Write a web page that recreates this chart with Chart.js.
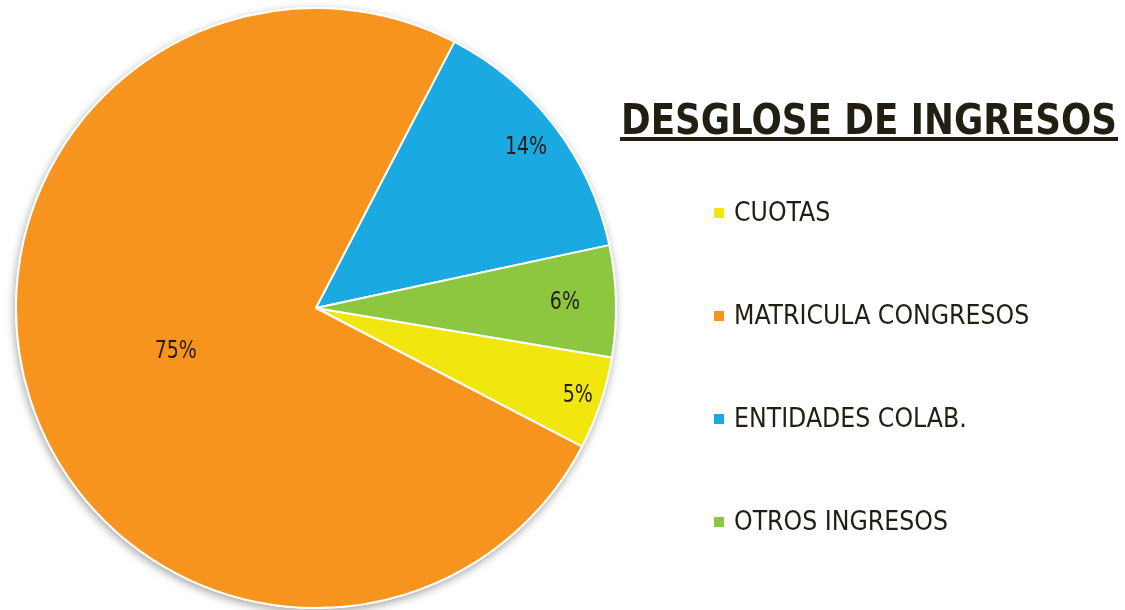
<!DOCTYPE html>
<html>
<head>
<meta charset="utf-8">
<script src="https://cdn.jsdelivr.net/npm/chart.js@4.4.1/dist/chart.umd.min.js"></script>
<style>
  html, body { margin: 0; background: #fff; }
  #wrap { width: 1125px; height: 610px; }
</style>
</head>
<body>
<div id="wrap"><canvas id="pie"></canvas></div>
<script>
// data
const categories = ["CUOTAS", "MATRICULA CONGRESOS", "ENTIDADES COLAB.", "OTROS INGRESOS"];
const shares = [5, 75, 14, 6];
const pctLabels = ["5%", "75%", "14%", "6%"];
const colors = ["#f2e60f", "#f7941e", "#1ba9e1", "#8dc63f"];
const chartTitle = "DESGLOSE DE INGRESOS";

const ink = "#221e12";
// how far out (fraction of radius) each percent label sits
const labelPos = [0.92, 0.49, 0.88, 0.83];

function drawText(ctx, str, x, y, font, sx, align) {
  ctx.save();
  ctx.font = font;
  ctx.textAlign = align || "left";
  ctx.translate(x, y);
  ctx.scale(sx, 1);
  ctx.fillText(str, 0, 0);
  ctx.restore();
}

// soft shadow under the pie
const pieShadow = {
  id: "pieShadow",
  beforeDatasetsDraw(chart) {
    const arc = chart.getDatasetMeta(0).data[0];
    if (!arc) return;
    const { x, y, outerRadius } = arc.getProps(["x", "y", "outerRadius"], true);
    const ctx = chart.ctx;
    ctx.save();
    ctx.shadowColor = "rgba(0,0,0,0.35)";
    ctx.shadowBlur = 9;
    ctx.shadowOffsetX = -1;
    ctx.shadowOffsetY = 3;
    ctx.fillStyle = "#fff";
    ctx.beginPath();
    ctx.arc(x, y, outerRadius + 1, 0, Math.PI * 2);
    ctx.fill();
    ctx.restore();
  }
};

// percent labels inside slices
const sliceLabels = {
  id: "sliceLabels",
  afterDatasetsDraw(chart) {
    const ctx = chart.ctx;
    chart.getDatasetMeta(0).data.forEach((arc, i) => {
      const p = arc.getProps(["x", "y", "startAngle", "endAngle", "outerRadius"], true);
      const mid = (p.startAngle + p.endAngle) / 2;
      const r = p.outerRadius * labelPos[i];
      ctx.save();
      ctx.fillStyle = ink;
      ctx.textBaseline = "middle";
      drawText(ctx, pctLabels[i], p.x + Math.cos(mid) * r, p.y + Math.sin(mid) * r,
        "24px 'DejaVu Sans Condensed'", 0.88, "center");
      ctx.restore();
    });
  }
};

// title + legend on the right
const sidePanel = {
  id: "sidePanel",
  afterDraw(chart) {
    const ctx = chart.ctx;
    ctx.save();
    ctx.fillStyle = ink;
    ctx.textBaseline = "alphabetic";
    ctx.font = "bold 43px 'DejaVu Sans Condensed'";
    const tx = 621, tw = 496;
    ctx.fillText(chartTitle, tx, 134, tw);
    ctx.fillRect(tx - 1, 137, tw + 2, 4);

    ctx.textBaseline = "middle";
    categories.forEach((c, i) => {
      const cy = 213 + i * 103;
      ctx.fillStyle = colors[i];
      ctx.fillRect(714, cy - 5, 10, 10);
      ctx.fillStyle = ink;
      drawText(ctx, c, 734, cy + 1, "27px 'DejaVu Sans Condensed'", 0.975);
    });
    ctx.restore();
  }
};

new Chart(document.getElementById("pie"), {
  type: "pie",
  data: {
    labels: categories,
    datasets: [{
      data: shares,
      backgroundColor: colors,
      borderColor: "#ffffff",
      borderWidth: 2,
      hoverOffset: 0
    }]
  },
  options: {
    responsive: true,
    maintainAspectRatio: false,
    animation: false,
    rotation: 99.5,
    layout: { padding: { left: 15, right: 508, top: 7, bottom: 1 } },
    plugins: {
      legend: { display: false },
      tooltip: { enabled: false }
    }
  },
  plugins: [pieShadow, sliceLabels, sidePanel]
});
</script>
</body>
</html>
